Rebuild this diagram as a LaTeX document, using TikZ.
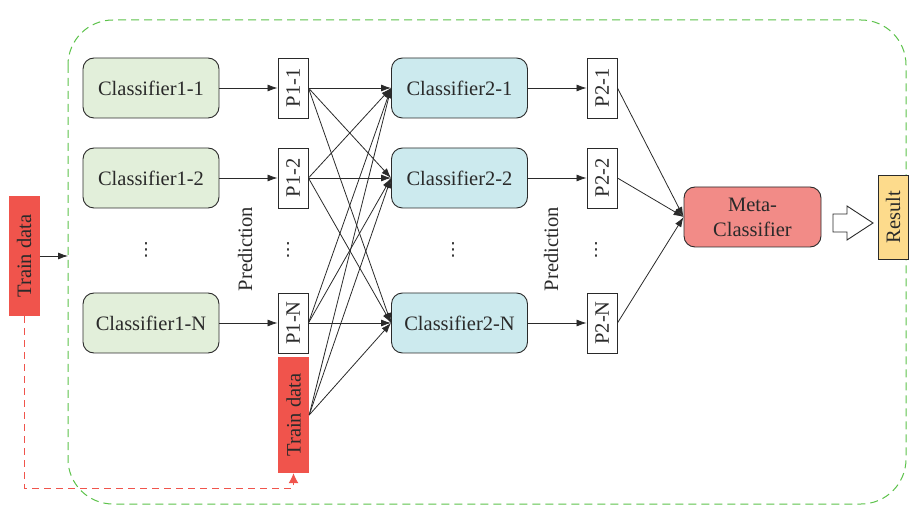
\documentclass[tikz,border=0pt]{standalone}
\usepackage{fontspec}
\setmainfont{Liberation Serif}
\newfontfamily\dotsfont{DejaVu Sans}
\usetikzlibrary{arrows.meta}
\definecolor{cgreen}{HTML}{E2EFDA}
\definecolor{ccyan}{HTML}{CCEAEE}
\definecolor{cred}{HTML}{F0544C}
\definecolor{cmeta}{HTML}{F28B87}
\definecolor{cres}{HTML}{FDDB8C}
\definecolor{cdash}{HTML}{5CC24A}
\definecolor{cline}{HTML}{2A2A2A}
\begin{document}
\begin{tikzpicture}[x=1pt,y=-1pt,
  font=\fontsize{20.5}{25}\selectfont, text=cline,
  clsone/.style={draw=cline, fill=cgreen, rounded corners=11pt, minimum width=136pt, minimum height=60pt, line width=0.9pt, inner sep=0pt},
  clstwo/.style={clsone, fill=ccyan},
  pbox/.style={draw=cline, fill=white, minimum width=30pt, minimum height=60pt, line width=0.9pt, inner sep=0pt},
  trbox/.style={fill=cred, minimum width=31pt, inner sep=0pt},
  arr/.style={-{Latex[length=10pt,width=7pt]}, line width=0.8pt, draw=cline},
  dotlbl/.style={inner sep=0pt, font=\dotsfont\fontsize{18}{18}\selectfont},
  lbl/.style={inner sep=0pt}]
\useasboundingbox (0,0) rectangle (910,510);
% green dashed frame
\draw[cdash, line width=1pt, dash pattern=on 8pt off 5pt, rounded corners=45pt] (68,20) rectangle (906,504);
% left train data
\node[trbox, minimum height=120pt] (tr1) at (24,256) {\rotatebox{90}{Train data}};
\coordinate (gin) at (68,256);
\draw[arr] (tr1.east) -- (gin);
% classifier level 1
\node[clsone] (c11) at (151,88) {Classifier1-1};
\node[clsone] (c12) at (151,178) {Classifier1-2};
\node[clsone] (c1n) at (151,323) {Classifier1-N};
\node[dotlbl] (d1) at (146,250) {⋮};
% P1
\node[pbox] (p11) at (293,88) {\rotatebox{90}{P1-1}};
\node[pbox] (p12) at (293,178) {\rotatebox{90}{P1-2}};
\node[pbox] (p1n) at (293,323) {\rotatebox{90}{P1-N}};
\node[dotlbl] (d2) at (288,250) {⋮};
\node[trbox, minimum height=116pt] (tr2) at (293.5,415) {\rotatebox{90}{Train data}};
\node[lbl] (pr1) at (245,249) {\rotatebox{90}{Prediction}};
\draw[arr] (c11) -- (p11);
\draw[arr] (c12) -- (p12);
\draw[arr] (c1n) -- (p1n);
% classifier level 2
\node[clstwo] (c21) at (459.5,88) {Classifier2-1};
\node[clstwo] (c22) at (459.5,178) {Classifier2-2};
\node[clstwo] (c2n) at (459.5,323) {Classifier2-N};
\node[dotlbl] (d3) at (453,250) {⋮};
\foreach \s in {p11,p12,p1n,tr2}{
  \foreach \t in {c21,c22,c2n}{
    \draw[arr] (\s.east) -- (\t.west);
  }
}
% P2
\node[pbox] (p21) at (602,88) {\rotatebox{90}{P2-1}};
\node[pbox] (p22) at (602,178) {\rotatebox{90}{P2-2}};
\node[pbox] (p2n) at (602,323) {\rotatebox{90}{P2-N}};
\node[dotlbl] (d4) at (596,250) {⋮};
\node[lbl] (pr2) at (551,249) {\rotatebox{90}{Prediction}};
\draw[arr] (c21) -- (p21);
\draw[arr] (c22) -- (p22);
\draw[arr] (c2n) -- (p2n);
% meta
\node[clsone, fill=cmeta, minimum width=137pt, align=center] (meta) at (752.5,217) {Meta-\\Classifier};
\draw[arr] (p21.east) -- (meta.west);
\draw[arr] (p22.east) -- (meta.west);
\draw[arr] (p2n.east) -- (meta.west);
% result
\node[pbox, fill=cres, minimum height=84pt, minimum width=30pt] (res) at (893,217) {\rotatebox{90}{Result}};
\draw[cline, fill=white, line width=0.9pt] (833,214) -- (847,214) -- (847,206) -- (873,223) -- (847,240) -- (847,232) -- (833,232) -- cycle;
% red dashed return
\coordinate (rb1) at (24,488);
\coordinate (rb2) at (293.5,488);
\draw[cred, line width=1pt, dash pattern=on 7pt off 5pt, -{Latex[length=10pt,width=10pt]}] (tr1.south) -- (rb1) -- (rb2) -- (tr2.south);
\end{tikzpicture}
\end{document}
